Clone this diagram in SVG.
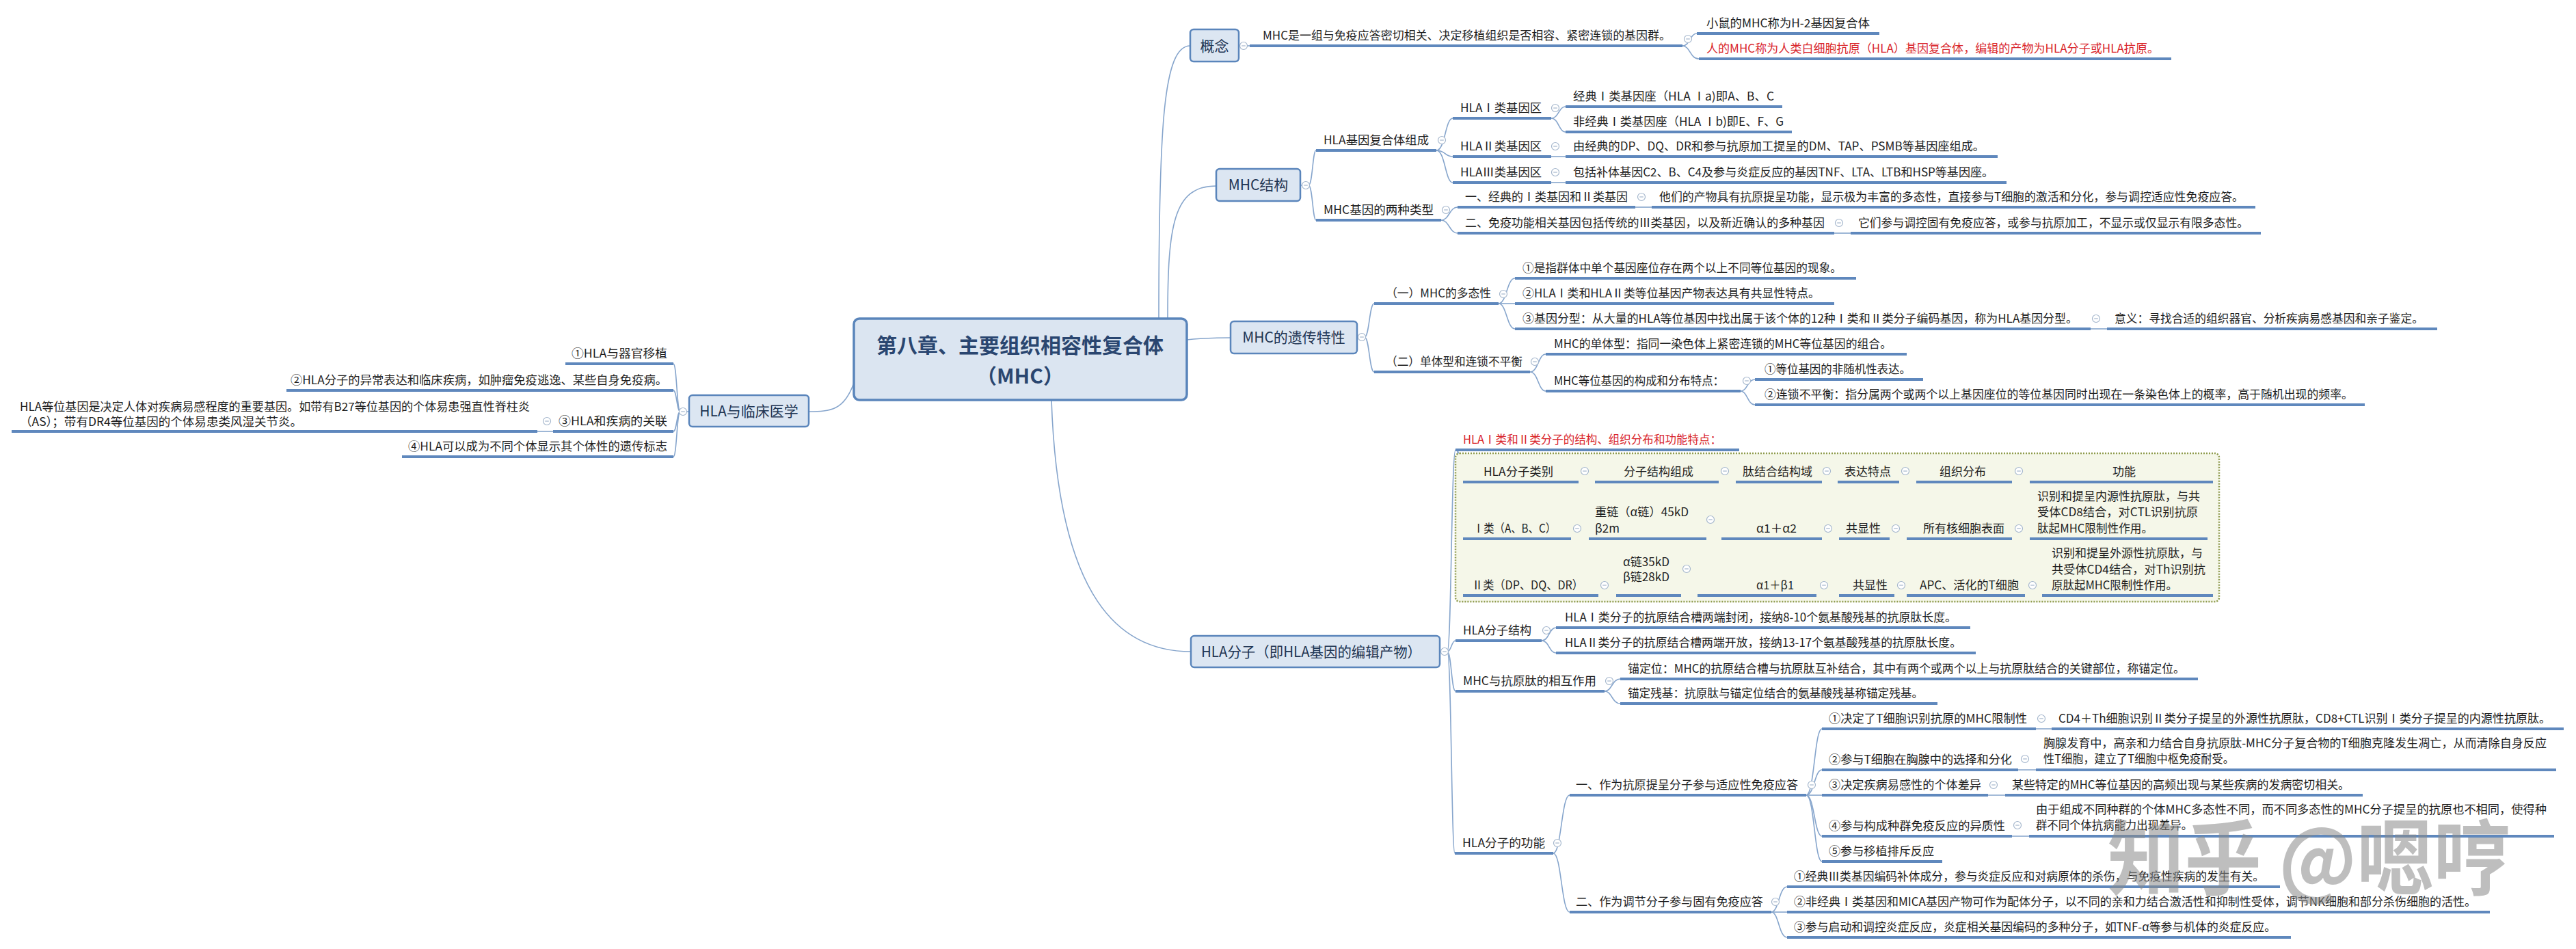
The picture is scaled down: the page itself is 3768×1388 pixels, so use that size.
<svg xmlns="http://www.w3.org/2000/svg" xmlns:xlink="http://www.w3.org/1999/xlink" width="3768" height="1388" viewBox="0 0 3768 1388">
<style>
.t{font-family:"Noto Sans CJK SC","Liberation Sans",sans-serif;font-size:17px;fill:#1e1e1e}
.red{fill:#d9262c}
.bt{font-size:21px;fill:#1f3553}
.rt{font-size:30px;font-weight:bold;fill:#2a4670}
.box{fill:#dce6f2;stroke:#5a85bb;stroke-width:2.5}
.root{fill:#dbe5f1;stroke:#5a85bb;stroke-width:3.5}
.ul{stroke:#5f88bd;stroke-width:4}
.cn{fill:none;stroke:#86a5cc;stroke-width:1.6}
.ci{fill:#fff;stroke:#a4b6cc;stroke-width:1.2}
.bd{fill:#f5f7e9;stroke:#8f9b4e;stroke-width:2.5;stroke-dasharray:2 2}
.wm{font-family:"Noto Sans CJK SC",sans-serif;font-size:120px;font-weight:bold;fill:#8a8a8a;opacity:0.55}
</style>
<defs>
<g id="c"><circle r="5.5" class="ci"/><path d="M-2.8,0H2.8" stroke="#a4b6cc" stroke-width="1.2"/></g>
</defs>
<rect width="3768" height="1388" fill="#ffffff"/>

<g id="connectors">
<path class="cn" d="M1695,466 C1695,180 1702,67 1741,67"/>
<path class="cn" d="M1708,466 C1708,330 1716,272 1779,272"/>
<path class="cn" d="M1736,497 C1760,494 1780,494 1800,494"/>
<path class="cn" d="M1538,585 C1548,880 1640,953 1742,953"/>
<path class="cn" d="M1249,560 C1235,600 1215,602 1183,602"/>
<path class="cn" d="M1812,67 H1828"/>
<path class="cn" d="M2461,67 C2472,67 2472,49 2482,49"/>
<path class="cn" d="M2461,67 C2472,67 2472,86 2485,86"/>
<path class="cn" d="M1902,271 H1914 C1920,271 1920,220 1925,220"/>
<path class="cn" d="M1914,271 C1920,271 1920,322 1925,322"/>
<path class="cn" d="M2101,220 C2114,220 2114,173 2125,173"/>
<path class="cn" d="M2101,220 C2114,220 2114,229 2125,229"/>
<path class="cn" d="M2101,220 C2114,220 2114,267 2125,267"/>
<path class="cn" d="M2269,173 C2280,173 2280,156 2290,156"/>
<path class="cn" d="M2269,173 C2280,173 2280,193 2290,193"/>
<path class="cn" d="M2269,229 H2290"/>
<path class="cn" d="M2269,267 H2290"/>
<path class="cn" d="M2108,322 C2120,322 2120,303 2132,303"/>
<path class="cn" d="M2108,322 C2120,322 2120,341 2132,341"/>
<path class="cn" d="M2392,303 H2416"/>
<path class="cn" d="M2683,341 H2707"/>
<path class="cn" d="M1985,493 H1996 C2003,493 2003,444 2010,444"/>
<path class="cn" d="M1996,493 C2003,493 2003,544 2010,544"/>
<path class="cn" d="M2192,444 C2204,444 2204,407 2216,407"/>
<path class="cn" d="M2192,444 H2216"/>
<path class="cn" d="M2192,444 C2204,444 2204,481 2216,481"/>
<path class="cn" d="M3058,481 H3082"/>
<path class="cn" d="M2238,544 C2250,544 2250,518 2261,518"/>
<path class="cn" d="M2238,544 C2250,544 2250,572 2261,572"/>
<path class="cn" d="M2546,572 C2556,572 2556,555 2567,555"/>
<path class="cn" d="M2546,572 C2556,572 2556,592 2567,592"/>
<path class="cn" d="M1008,602 H995 C990,602 990,532 985,532"/>
<path class="cn" d="M995,602 C990,602 990,571 985,571"/>
<path class="cn" d="M995,602 C990,602 990,631 985,631"/>
<path class="cn" d="M995,602 C990,602 990,668 985,668"/>
<path class="cn" d="M809,631 H786"/>
<path class="cn" d="M2106,953 H2117 C2123,953 2123,658 2129,658"/>
<path class="cn" d="M2117,953 C2123,953 2123,937 2129,937"/>
<path class="cn" d="M2117,953 C2123,953 2123,1011 2129,1011"/>
<path class="cn" d="M2117,953 C2123,953 2123,1248 2128,1248"/>
<path class="cn" d="M2131,658 C2136,658 2135,705 2140,705"/>
<path class="cn" d="M2131,658 C2136,658 2135,788 2140,788"/>
<path class="cn" d="M2131,658 C2136,658 2135,871 2140,871"/>
<path class="cn" d="M2309,705 H2333 M2514,705 H2539 M2665,705 H2688 M2778,705 H2803 M2943,705 H2969"/>
<path class="cn" d="M2298,788 H2324 M2496,788 H2518 M2665,788 H2690 M2764,788 H2789 M2943,788 H2969"/>
<path class="cn" d="M2338,871 H2364 M2459,871 H2483 M2657,871 H2690 M2771,871 H2789 M2962,871 H2987"/>
<path class="cn" d="M2255,937 C2266,937 2266,918 2276,918"/>
<path class="cn" d="M2255,937 C2266,937 2266,955 2276,955"/>
<path class="cn" d="M2347,1011 C2358,1011 2358,993 2370,993"/>
<path class="cn" d="M2347,1011 C2358,1011 2358,1029 2370,1029"/>
<path class="cn" d="M2272,1248 C2284,1248 2284,1163 2296,1163"/>
<path class="cn" d="M2272,1248 C2284,1248 2284,1334 2296,1334"/>
<path class="cn" d="M2642,1163 C2654,1163 2654,1066 2665,1066"/>
<path class="cn" d="M2642,1163 C2654,1163 2654,1126 2665,1126"/>
<path class="cn" d="M2642,1163 H2665"/>
<path class="cn" d="M2642,1163 C2654,1163 2654,1223 2665,1223"/>
<path class="cn" d="M2642,1163 C2654,1163 2654,1260 2665,1260"/>
<path class="cn" d="M2978,1066 H3001 M2952,1126 H2978 M2908,1163 H2933 M2943,1223 H2968"/>
<path class="cn" d="M2591,1334 C2602,1334 2602,1297 2614,1297"/>
<path class="cn" d="M2591,1334 H2614"/>
<path class="cn" d="M2591,1334 C2602,1334 2602,1371 2614,1371"/>
</g>

<rect id="boundary" class="bd" x="2129" y="663" width="1117" height="217" rx="6"/>

<g id="root">
<rect class="root" x="1249" y="466" width="487" height="119" rx="8"/>
<text class="t rt" x="1492" y="516" text-anchor="middle">第八章、主要组织相容性复合体</text>
<text class="t rt" x="1492" y="561" text-anchor="middle">（MHC）</text>
</g>

<g id="n-concept">
<rect class="box" x="1741" y="43" width="71" height="47" rx="5"/>
<text class="t bt" x="1776.5" y="74.5" text-anchor="middle">概念</text>
<use href="#c" x="1819" y="67"/>
</g>
<g id="n-concept-def">
<line class="ul" x1="1828" y1="67" x2="2461" y2="67"/>
<text class="t" x="1847" y="58" textLength="597" lengthAdjust="spacingAndGlyphs">MHC是一组与免疫应答密切相关、决定移植组织是否相容、紧密连锁的基因群。</text>
<use href="#c" x="2469" y="57"/>
</g>
<g id="n-mouse">
<line class="ul" x1="2482" y1="49" x2="2749" y2="49"/>
<text class="t" x="2496" y="40" textLength="239" lengthAdjust="spacingAndGlyphs">小鼠的MHC称为H-2基因复合体</text>
</g>
<g id="n-human">
<line class="ul" x1="2485" y1="86" x2="3176" y2="86"/>
<text class="t red" x="2496" y="77" textLength="662" lengthAdjust="spacingAndGlyphs">人的MHC称为人类白细胞抗原（HLA）基因复合体，编辑的产物为HLA分子或HLA抗原。</text>
</g>

<g id="n-struct">
<rect class="box" x="1779" y="247" width="123" height="47" rx="5"/>
<text class="t bt" x="1840.5" y="278" text-anchor="middle">MHC结构</text>
<use href="#c" x="1910" y="271"/>
</g>
<g id="n-hla-complex">
<line class="ul" x1="1925" y1="220" x2="2101" y2="220"/>
<text class="t" x="1936" y="211" textLength="154" lengthAdjust="spacingAndGlyphs">HLA基因复合体组成</text>
<use href="#c" x="2109" y="205"/>
</g>
<g id="n-hla1">
<line class="ul" x1="2125" y1="173" x2="2269" y2="173"/>
<text class="t" x="2136" y="164" textLength="119" lengthAdjust="spacingAndGlyphs">HLAⅠ类基因区</text>
<use href="#c" x="2275" y="158"/>
</g>
<g id="n-hla1a">
<line class="ul" x1="2290" y1="156" x2="2607" y2="156"/>
<text class="t" x="2301" y="147" textLength="294" lengthAdjust="spacingAndGlyphs">经典Ⅰ类基因座（HLA Ⅰa)即A、B、C</text>
</g>
<g id="n-hla1b">
<line class="ul" x1="2290" y1="193" x2="2621" y2="193"/>
<text class="t" x="2301" y="184" textLength="308" lengthAdjust="spacingAndGlyphs">非经典Ⅰ类基因座（HLA Ⅰb)即E、F、G</text>
</g>
<g id="n-hla2">
<line class="ul" x1="2125" y1="229" x2="2269" y2="229"/>
<text class="t" x="2136" y="220" textLength="119" lengthAdjust="spacingAndGlyphs">HLAⅡ类基因区</text>
<use href="#c" x="2275" y="214"/>
</g>
<g id="n-hla2a">
<line class="ul" x1="2290" y1="229" x2="2922" y2="229"/>
<text class="t" x="2301" y="220" textLength="602" lengthAdjust="spacingAndGlyphs">由经典的DP、DQ、DR和参与抗原加工提呈的DM、TAP、PSMB等基因座组成。</text>
</g>
<g id="n-hla3">
<line class="ul" x1="2125" y1="267" x2="2269" y2="267"/>
<text class="t" x="2136" y="258" textLength="119" lengthAdjust="spacingAndGlyphs">HLAⅢ类基因区</text>
<use href="#c" x="2275" y="252"/>
</g>
<g id="n-hla3a">
<line class="ul" x1="2290" y1="267" x2="2935" y2="267"/>
<text class="t" x="2301" y="258" textLength="615" lengthAdjust="spacingAndGlyphs">包括补体基因C2、B、C4及参与炎症反应的基因TNF、LTA、LTB和HSP等基因座。</text>
</g>
<g id="n-types">
<line class="ul" x1="1925" y1="322" x2="2108" y2="322"/>
<text class="t" x="1936" y="313" textLength="161" lengthAdjust="spacingAndGlyphs">MHC基因的两种类型</text>
<use href="#c" x="2115" y="307"/>
</g>
<g id="n-type1">
<line class="ul" x1="2132" y1="303" x2="2392" y2="303"/>
<text class="t" x="2143" y="294" textLength="238" lengthAdjust="spacingAndGlyphs">一、经典的Ⅰ类基因和Ⅱ类基因</text>
<use href="#c" x="2401" y="288"/>
</g>
<g id="n-type1a">
<line class="ul" x1="2416" y1="303" x2="3299" y2="303"/>
<text class="t" x="2427" y="294" textLength="855" lengthAdjust="spacingAndGlyphs">他们的产物具有抗原提呈功能，显示极为丰富的多态性，直接参与T细胞的激活和分化，参与调控适应性免疫应答。</text>
</g>
<g id="n-type2">
<line class="ul" x1="2132" y1="341" x2="2683" y2="341"/>
<text class="t" x="2143" y="332" textLength="526" lengthAdjust="spacingAndGlyphs">二、免疫功能相关基因包括传统的Ⅲ类基因，以及新近确认的多种基因</text>
<use href="#c" x="2690" y="326"/>
</g>
<g id="n-type2a">
<line class="ul" x1="2707" y1="341" x2="3307" y2="341"/>
<text class="t" x="2718" y="332" textLength="571" lengthAdjust="spacingAndGlyphs">它们参与调控固有免疫应答，或参与抗原加工，不显示或仅显示有限多态性。</text>
</g>

<g id="n-heredity">
<rect class="box" x="1800" y="470" width="185" height="47" rx="5"/>
<text class="t bt" x="1892.5" y="501" text-anchor="middle">MHC的遗传特性</text>
<use href="#c" x="1992" y="493"/>
</g>
<g id="n-poly">
<line class="ul" x1="2010" y1="444" x2="2192" y2="444"/>
<text class="t" x="2027" y="435" textLength="154" lengthAdjust="spacingAndGlyphs">（一）MHC的多态性</text>
<use href="#c" x="2199" y="430"/>
</g>
<g id="n-poly1">
<line class="ul" x1="2216" y1="407" x2="2715" y2="407"/>
<text class="t" x="2227" y="398" textLength="467" lengthAdjust="spacingAndGlyphs">①是指群体中单个基因座位存在两个以上不同等位基因的现象。</text>
</g>
<g id="n-poly2">
<line class="ul" x1="2216" y1="444" x2="2683" y2="444"/>
<text class="t" x="2227" y="435" textLength="435" lengthAdjust="spacingAndGlyphs">②HLAⅠ类和HLAⅡ类等位基因产物表达具有共显性特点。</text>
</g>
<g id="n-poly3">
<line class="ul" x1="2216" y1="481" x2="3058" y2="481"/>
<text class="t" x="2227" y="472" textLength="812" lengthAdjust="spacingAndGlyphs">③基因分型：从大量的HLA等位基因中找出属于该个体的12种Ⅰ类和Ⅱ类分子编码基因，称为HLA基因分型。</text>
<use href="#c" x="3066" y="466"/>
</g>
<g id="n-poly3a">
<line class="ul" x1="3082" y1="481" x2="3565" y2="481"/>
<text class="t" x="3093" y="472" textLength="452" lengthAdjust="spacingAndGlyphs">意义：寻找合适的组织器官、分析疾病易感基因和亲子鉴定。</text>
</g>
<g id="n-haplo">
<line class="ul" x1="2010" y1="544" x2="2238" y2="544"/>
<text class="t" x="2027" y="535" textLength="200" lengthAdjust="spacingAndGlyphs">（二）单体型和连锁不平衡</text>
<use href="#c" x="2245" y="529"/>
</g>
<g id="n-haplo1">
<line class="ul" x1="2261" y1="518" x2="2789" y2="518"/>
<text class="t" x="2273" y="509" textLength="494" lengthAdjust="spacingAndGlyphs">MHC的单体型：指同一染色体上紧密连锁的MHC等位基因的组合。</text>
</g>
<g id="n-haplo2">
<line class="ul" x1="2261" y1="572" x2="2546" y2="572"/>
<text class="t" x="2273" y="563" textLength="249" lengthAdjust="spacingAndGlyphs">MHC等位基因的构成和分布特点：</text>
<use href="#c" x="2555" y="557"/>
</g>
<g id="n-haplo2a">
<line class="ul" x1="2567" y1="555" x2="2813" y2="555"/>
<text class="t" x="2581" y="546" textLength="214" lengthAdjust="spacingAndGlyphs">①等位基因的非随机性表达。</text>
</g>
<g id="n-haplo2b">
<line class="ul" x1="2567" y1="592" x2="3459" y2="592"/>
<text class="t" x="2581" y="583" textLength="861" lengthAdjust="spacingAndGlyphs">②连锁不平衡：指分属两个或两个以上基因座位的等位基因同时出现在一条染色体上的概率，高于随机出现的频率。</text>
</g>

<g id="n-clinic">
<rect class="box" x="1008" y="578" width="175" height="46" rx="5"/>
<text class="t bt" x="1095.5" y="608.5" text-anchor="middle">HLA与临床医学</text>
<use href="#c" x="999" y="602"/>
</g>
<g id="n-clinic1">
<line class="ul" x1="827" y1="532" x2="985" y2="532"/>
<text class="t" x="836" y="523" textLength="140" lengthAdjust="spacingAndGlyphs">①HLA与器官移植</text>
</g>
<g id="n-clinic2">
<line class="ul" x1="419" y1="571" x2="985" y2="571"/>
<text class="t" x="425" y="562" textLength="551" lengthAdjust="spacingAndGlyphs">②HLA分子的异常表达和临床疾病，如肿瘤免疫逃逸、某些自身免疫病。</text>
</g>
<g id="n-clinic3">
<line class="ul" x1="809" y1="631" x2="985" y2="631"/>
<text class="t" x="817" y="622" textLength="159" lengthAdjust="spacingAndGlyphs">③HLA和疾病的关联</text>
<use href="#c" x="800" y="616"/>
</g>
<g id="n-clinic3a">
<line class="ul" x1="17" y1="631" x2="786" y2="631"/>
<text class="t" x="29" y="601" textLength="746" lengthAdjust="spacingAndGlyphs">HLA等位基因是决定人体对疾病易感程度的重要基因。如带有B27等位基因的个体易患强直性脊柱炎</text>
<text class="t" x="29" y="623" textLength="413" lengthAdjust="spacingAndGlyphs">（AS）；带有DR4等位基因的个体易患类风湿关节炎。</text>
</g>
<g id="n-clinic4">
<line class="ul" x1="588" y1="668" x2="985" y2="668"/>
<text class="t" x="597" y="659" textLength="379" lengthAdjust="spacingAndGlyphs">④HLA可以成为不同个体显示其个体性的遗传标志</text>
</g>

<g id="n-hla">
<rect class="box" x="1742" y="930" width="364" height="46" rx="5"/>
<text class="t bt" x="1757" y="960.5" textLength="322" lengthAdjust="spacingAndGlyphs">HLA分子（即HLA基因的编辑产物）</text>
<use href="#c" x="2113" y="953"/>
</g>
<g id="n-table-title">
<line class="ul" x1="2129" y1="658" x2="2544" y2="658"/>
<text class="t red" x="2140" y="649" textLength="378" lengthAdjust="spacingAndGlyphs">HLAⅠ类和Ⅱ类分子的结构、组织分布和功能特点：</text>
</g>
<g id="n-table-head">
<line class="ul" x1="2140" y1="705" x2="2309" y2="705"/>
<text class="t" x="2170" y="696" textLength="102" lengthAdjust="spacingAndGlyphs">HLA分子类别</text>
<use href="#c" x="2318" y="689"/>
<line class="ul" x1="2333" y1="705" x2="2514" y2="705"/>
<text class="t" x="2375" y="696">分子结构组成</text>
<use href="#c" x="2523" y="689"/>
<line class="ul" x1="2539" y1="705" x2="2665" y2="705"/>
<text class="t" x="2549" y="696">肽结合结构域</text>
<use href="#c" x="2672" y="689"/>
<line class="ul" x1="2688" y1="705" x2="2778" y2="705"/>
<text class="t" x="2698" y="696">表达特点</text>
<use href="#c" x="2787" y="689"/>
<line class="ul" x1="2803" y1="705" x2="2943" y2="705"/>
<text class="t" x="2837" y="696">组织分布</text>
<use href="#c" x="2953" y="689"/>
<line class="ul" x1="2969" y1="705" x2="3237" y2="705"/>
<text class="t" x="3090" y="696">功能</text>
</g>
<g id="n-table-row1">
<line class="ul" x1="2140" y1="788" x2="2298" y2="788"/>
<text class="t" x="2155" y="779" textLength="121" lengthAdjust="spacingAndGlyphs">Ⅰ类（A、B、C）</text>
<use href="#c" x="2307" y="773"/>
<line class="ul" x1="2324" y1="788" x2="2496" y2="788"/>
<text class="t" x="2333" y="755" textLength="137" lengthAdjust="spacingAndGlyphs">重链（α链）45kD</text>
<text class="t" x="2333" y="779">β2m</text>
<use href="#c" x="2502" y="760"/>
<line class="ul" x1="2518" y1="788" x2="2665" y2="788"/>
<text class="t" x="2569" y="779" textLength="59" lengthAdjust="spacingAndGlyphs">α1＋α2</text>
<use href="#c" x="2674" y="773"/>
<line class="ul" x1="2690" y1="788" x2="2764" y2="788"/>
<text class="t" x="2700" y="779">共显性</text>
<use href="#c" x="2773" y="773"/>
<line class="ul" x1="2789" y1="788" x2="2943" y2="788"/>
<text class="t" x="2813" y="779">所有核细胞表面</text>
<use href="#c" x="2953" y="773"/>
<line class="ul" x1="2969" y1="788" x2="3229" y2="788"/>
<text class="t" x="2980" y="732" textLength="238" lengthAdjust="spacingAndGlyphs">识别和提呈内源性抗原肽，与共</text>
<text class="t" x="2980" y="755" textLength="235" lengthAdjust="spacingAndGlyphs">受体CD8结合，对CTL识别抗原</text>
<text class="t" x="2980" y="779" textLength="169" lengthAdjust="spacingAndGlyphs">肽起MHC限制性作用。</text>
</g>
<g id="n-table-row2">
<line class="ul" x1="2140" y1="871" x2="2338" y2="871"/>
<text class="t" x="2153" y="862" textLength="163" lengthAdjust="spacingAndGlyphs">Ⅱ类（DP、DQ、DR）</text>
<use href="#c" x="2347" y="856"/>
<line class="ul" x1="2364" y1="871" x2="2459" y2="871"/>
<text class="t" x="2374" y="828" textLength="68" lengthAdjust="spacingAndGlyphs">α链35kD</text>
<text class="t" x="2374" y="850" textLength="68" lengthAdjust="spacingAndGlyphs">β链28kD</text>
<use href="#c" x="2467" y="832"/>
<line class="ul" x1="2483" y1="871" x2="2657" y2="871"/>
<text class="t" x="2569" y="862" textLength="55" lengthAdjust="spacingAndGlyphs">α1＋β1</text>
<use href="#c" x="2668" y="856"/>
<line class="ul" x1="2690" y1="871" x2="2771" y2="871"/>
<text class="t" x="2710" y="862">共显性</text>
<use href="#c" x="2781" y="856"/>
<line class="ul" x1="2789" y1="871" x2="2962" y2="871"/>
<text class="t" x="2808" y="862" textLength="145" lengthAdjust="spacingAndGlyphs">APC、活化的T细胞</text>
<use href="#c" x="2973" y="856"/>
<line class="ul" x1="2987" y1="871" x2="3237" y2="871"/>
<text class="t" x="3001" y="815" textLength="221" lengthAdjust="spacingAndGlyphs">识别和提呈外源性抗原肽，与</text>
<text class="t" x="3001" y="839" textLength="225" lengthAdjust="spacingAndGlyphs">共受体CD4结合，对Th识别抗</text>
<text class="t" x="3001" y="862" textLength="184" lengthAdjust="spacingAndGlyphs">原肽起MHC限制性作用。</text>
</g>
<g id="n-hla-struct">
<line class="ul" x1="2129" y1="937" x2="2255" y2="937"/>
<text class="t" x="2140" y="928" textLength="100" lengthAdjust="spacingAndGlyphs">HLA分子结构</text>
<use href="#c" x="2262" y="922"/>
</g>
<g id="n-hla-struct1">
<line class="ul" x1="2276" y1="918" x2="2882" y2="918"/>
<text class="t" x="2289" y="909" textLength="573" lengthAdjust="spacingAndGlyphs">HLAⅠ类分子的抗原结合槽两端封闭，接纳8-10个氨基酸残基的抗原肽长度。</text>
</g>
<g id="n-hla-struct2">
<line class="ul" x1="2276" y1="955" x2="2890" y2="955"/>
<text class="t" x="2289" y="946" textLength="580" lengthAdjust="spacingAndGlyphs">HLAⅡ类分子的抗原结合槽两端开放，接纳13-17个氨基酸残基的抗原肽长度。</text>
</g>
<g id="n-interact">
<line class="ul" x1="2129" y1="1011" x2="2347" y2="1011"/>
<text class="t" x="2140" y="1002" textLength="195" lengthAdjust="spacingAndGlyphs">MHC与抗原肽的相互作用</text>
<use href="#c" x="2354" y="996"/>
</g>
<g id="n-interact1">
<line class="ul" x1="2370" y1="993" x2="3215" y2="993"/>
<text class="t" x="2381" y="984" textLength="815" lengthAdjust="spacingAndGlyphs">锚定位：MHC的抗原结合槽与抗原肽互补结合，其中有两个或两个以上与抗原肽结合的关键部位，称锚定位。</text>
</g>
<g id="n-interact2">
<line class="ul" x1="2370" y1="1029" x2="2834" y2="1029"/>
<text class="t" x="2381" y="1020" textLength="432" lengthAdjust="spacingAndGlyphs">锚定残基：抗原肽与锚定位结合的氨基酸残基称锚定残基。</text>
</g>
<g id="n-func">
<line class="ul" x1="2128" y1="1248" x2="2272" y2="1248"/>
<text class="t" x="2139" y="1239" textLength="121" lengthAdjust="spacingAndGlyphs">HLA分子的功能</text>
<use href="#c" x="2278" y="1233"/>
</g>
<g id="n-func1">
<line class="ul" x1="2296" y1="1163" x2="2642" y2="1163"/>
<text class="t" x="2305" y="1154" textLength="325" lengthAdjust="spacingAndGlyphs">一、作为抗原提呈分子参与适应性免疫应答</text>
<use href="#c" x="2650" y="1148"/>
</g>
<g id="n-func1-1">
<line class="ul" x1="2665" y1="1066" x2="2978" y2="1066"/>
<text class="t" x="2675" y="1057" textLength="290" lengthAdjust="spacingAndGlyphs">①决定了T细胞识别抗原的MHC限制性</text>
<use href="#c" x="2986" y="1051"/>
</g>
<g id="n-func1-1a">
<line class="ul" x1="3001" y1="1066" x2="3750" y2="1066"/>
<text class="t" x="3011" y="1057" textLength="720" lengthAdjust="spacingAndGlyphs">CD4＋Th细胞识别Ⅱ类分子提呈的外源性抗原肽，CD8+CTL识别Ⅰ类分子提呈的内源性抗原肽。</text>
</g>
<g id="n-func1-2">
<line class="ul" x1="2665" y1="1126" x2="2952" y2="1126"/>
<text class="t" x="2675" y="1117" textLength="268" lengthAdjust="spacingAndGlyphs">②参与T细胞在胸腺中的选择和分化</text>
<use href="#c" x="2962" y="1110"/>
</g>
<g id="n-func1-2a">
<line class="ul" x1="2978" y1="1126" x2="3739" y2="1126"/>
<text class="t" x="2989" y="1093" textLength="736" lengthAdjust="spacingAndGlyphs">胸腺发育中，高亲和力结合自身抗原肽-MHC分子复合物的T细胞克隆发生凋亡，从而清除自身反应</text>
<text class="t" x="2989" y="1116" textLength="279" lengthAdjust="spacingAndGlyphs">性T细胞，建立了T细胞中枢免疫耐受。</text>
</g>
<g id="n-func1-3">
<line class="ul" x1="2665" y1="1163" x2="2908" y2="1163"/>
<text class="t" x="2675" y="1154" textLength="223" lengthAdjust="spacingAndGlyphs">③决定疾病易感性的个体差异</text>
<use href="#c" x="2916" y="1148"/>
</g>
<g id="n-func1-3a">
<line class="ul" x1="2933" y1="1163" x2="3456" y2="1163"/>
<text class="t" x="2943" y="1154" textLength="494" lengthAdjust="spacingAndGlyphs">某些特定的MHC等位基因的高频出现与某些疾病的发病密切相关。</text>
</g>
<g id="n-func1-4">
<line class="ul" x1="2665" y1="1223" x2="2943" y2="1223"/>
<text class="t" x="2675" y="1214" textLength="258" lengthAdjust="spacingAndGlyphs">④参与构成种群免疫反应的异质性</text>
<use href="#c" x="2951" y="1207"/>
</g>
<g id="n-func1-4a">
<line class="ul" x1="2968" y1="1223" x2="3736" y2="1223"/>
<text class="t" x="2978" y="1190" textLength="747" lengthAdjust="spacingAndGlyphs">由于组成不同种群的个体MHC多态性不同，而不同多态性的MHC分子提呈的抗原也不相同，使得种</text>
<text class="t" x="2978" y="1213" textLength="229" lengthAdjust="spacingAndGlyphs">群不同个体抗病能力出现差异。</text>
</g>
<g id="n-func1-5">
<line class="ul" x1="2665" y1="1260" x2="2841" y2="1260"/>
<text class="t" x="2675" y="1251" textLength="154" lengthAdjust="spacingAndGlyphs">⑤参与移植排斥反应</text>
</g>
<g id="n-func2">
<line class="ul" x1="2296" y1="1334" x2="2591" y2="1334"/>
<text class="t" x="2305" y="1325" textLength="274" lengthAdjust="spacingAndGlyphs">二、作为调节分子参与固有免疫应答</text>
<use href="#c" x="2597" y="1319"/>
</g>
<g id="n-func2-1">
<line class="ul" x1="2614" y1="1297" x2="3335" y2="1297"/>
<text class="t" x="2624" y="1288" textLength="688" lengthAdjust="spacingAndGlyphs">①经典Ⅲ类基因编码补体成分，参与炎症反应和对病原体的杀伤，与免疫性疾病的发生有关。</text>
</g>
<g id="n-func2-2">
<line class="ul" x1="2614" y1="1334" x2="3642" y2="1334"/>
<text class="t" x="2624" y="1325" textLength="998" lengthAdjust="spacingAndGlyphs">②非经典Ⅰ类基因和MICA基因产物可作为配体分子，以不同的亲和力结合激活性和抑制性受体，调节NK细胞和部分杀伤细胞的活性。</text>
</g>
<g id="n-func2-3">
<line class="ul" x1="2614" y1="1371" x2="3351" y2="1371"/>
<text class="t" x="2624" y="1362" textLength="705" lengthAdjust="spacingAndGlyphs">③参与启动和调控炎症反应，炎症相关基因编码的多种分子，如TNF-α等参与机体的炎症反应。</text>
</g>

<text id="watermark" class="wm" x="3083" y="1300" textLength="589" lengthAdjust="spacingAndGlyphs">知乎 @嗯哼</text>
</svg>
